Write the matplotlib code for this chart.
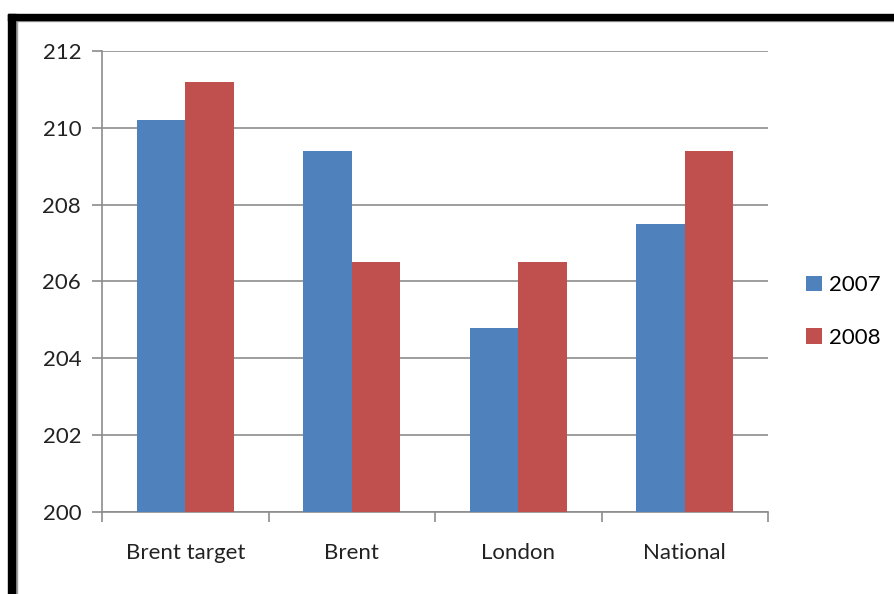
import matplotlib.pyplot as plt
import numpy as np
from matplotlib.patches import Rectangle

categories = ['Brent target', 'Brent', 'London', 'National']
values_2007 = [210.2, 209.4, 204.8, 207.5]
values_2008 = [211.2, 206.5, 206.5, 209.4]
series_names = ['2007', '2008']
colors = ['#4F81BD', '#C0504D']

plt.rcParams['font.family'] = ['Lato', 'DejaVu Sans']

W, H = 894, 594
fig = plt.figure(figsize=(W / 100, H / 100), dpi=100)
ax = fig.add_axes([102 / W, 1 - 512 / H, 666 / W, 461 / H])

# black frame on top and left (shadowed chart border)
fig.patches.append(Rectangle((8 / W, 1 - 21 / H), 1, 2 / H, transform=fig.transFigure,
                             color='#a0a0a0', zorder=0))
fig.patches.append(Rectangle((15 / W, 0), 2 / W, 1 - 14 / H, transform=fig.transFigure,
                             color='#a0a0a0', zorder=0))
fig.patches.append(Rectangle((8 / W, 1 - 20 / H), 1, 6 / H, transform=fig.transFigure,
                             color='black', zorder=1))
fig.patches.append(Rectangle((8 / W, 0), 7 / W, 1 - 14 / H, transform=fig.transFigure,
                             color='black', zorder=1))

x = np.arange(len(categories))
width = 0.29
ax.bar(x - width / 2, values_2007, width, color=colors[0], label=series_names[0], zorder=3)
ax.bar(x + width / 2, values_2008, width, color=colors[1], label=series_names[1], zorder=3)

ax.set_xlim(-0.5, len(categories) - 0.5)
ax.set_ylim(200, 212)
ax.set_yticks(range(200, 213, 2))
ax.yaxis.grid(True, color='#8c8c8c', linewidth=1.2)
ax.set_axisbelow(True)

ax.set_xticks(x)
ax.set_xticklabels(categories, fontsize=16, color='#222222')
ax.set_xticks(np.arange(-0.5, len(categories)), minor=True)
ax.tick_params(axis='x', which='major', length=0, pad=22)
ax.tick_params(axis='x', which='minor', length=7, color='#8c8c8c', width=1.2)
ax.tick_params(axis='y', length=7, color='#8c8c8c', width=1.2, labelsize=16,
               labelcolor='#222222', pad=8)

for s in ['top', 'right']:
    ax.spines[s].set_visible(False)
for s in ['left', 'bottom']:
    ax.spines[s].set_color('#8c8c8c')
    ax.spines[s].set_linewidth(1.2)

ax.legend(loc='center left', bbox_to_anchor=(1.027, 0.435), frameon=False, fontsize=16,
          handlelength=0.7, handleheight=0.7, handletextpad=0.35, labelspacing=1.45)

fig.savefig('out.png', dpi=100, facecolor='white')
